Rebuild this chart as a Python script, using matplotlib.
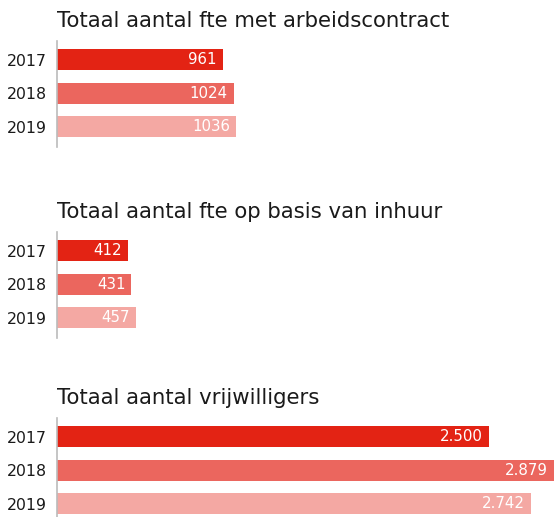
import matplotlib
matplotlib.use("Agg")
import matplotlib.pyplot as plt

years = ["2017", "2018", "2019"]
titles = ["Totaal aantal fte met arbeidscontract",
          "Totaal aantal fte op basis van inhuur",
          "Totaal aantal vrijwilligers"]
values_contract = [961, 1024, 1036]
values_inhuur = [412, 431, 457]
values_vrijwilligers = [2500, 2879, 2742]
labels_contract = ["961", "1024", "1036"]
labels_inhuur = ["412", "431", "457"]
labels_vrijwilligers = ["2.500", "2.879", "2.742"]

colors = ["#E32314", "#EB665E", "#F4A8A3"]
font = "DejaVu Sans"

W, H = 556, 517
fig = plt.figure(figsize=(W / 100, H / 100), dpi=100)

panels = [(values_contract, labels_contract, 41),
          (values_inhuur, labels_inhuur, 232),
          (values_vrijwilligers, labels_vrijwilligers, 418)]
x0 = 57
ax_h = 106
xmax = (W - x0) / 0.1727

for (vals, labs, top), title in zip(panels, titles):
    ax = fig.add_axes([x0 / W, 1 - (top + ax_h) / H, 1 - x0 / W, ax_h / H])
    ypos = list(range(len(years)))
    ax.barh(ypos, vals, height=0.63, color=colors)
    ax.set_xlim(0, xmax)
    ax.set_ylim(2.6, -0.55)
    ax.set_yticks(ypos)
    ax.set_yticklabels(years, fontsize=11.3, family=font, color="#1a1a1a")
    ax.tick_params(axis="y", length=0, pad=7)
    ax.set_xticks([])
    for s in ["top", "right", "bottom"]:
        ax.spines[s].set_visible(False)
    ax.spines["left"].set_color("#BBBBBB")
    ax.spines["left"].set_linewidth(1.2)
    for y, v, lab in zip(ypos, vals, labs):
        ax.text(v - xmax * 0.012, y, lab, ha="right", va="center",
                color="white", fontsize=10.8, family=font)
    fig.text(x0 / W, 1 - (top - 20) / H, title, ha="left", va="center",
             fontsize=15.3, family=font, color="#1a1a1a")

fig.savefig("out.png", dpi=100)
